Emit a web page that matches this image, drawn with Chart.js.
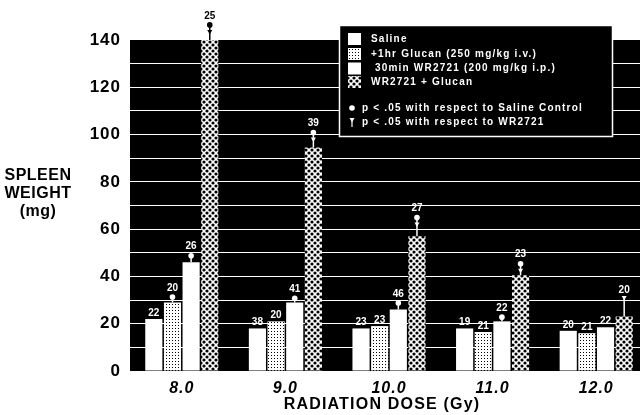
<!DOCTYPE html>
<html>
<head>
<meta charset="utf-8">
<script src="https://cdn.jsdelivr.net/npm/chart.js@4.4.1/dist/chart.umd.min.js"></script>
<style>
  html, body { margin: 0; padding: 0; background: #fff; overflow: hidden; }
  canvas { display: block; }
</style>
</head>
<body>
<canvas id="spleenChart" width="648" height="415"></canvas>
<script>
// radiation doses (Gy)
const doses = ['8.0', '9.0', '10.0', '11.0', '12.0'];

// mean spleen weight (mg)
const saline = [22, 18, 18, 18, 17];
const glucan = [29, 21, 19, 16.5, 16];
const wr2721 = [46, 29, 26, 21, 18.5];
const combo = [140, 94.5, 57, 40.5, 23];

// upper error bar per bar (mg)
const errSaline = [0, 0, 0, 0, 0];
const errGlucan = [1, 0, 0, 0, 0];
const errWr = [1.5, 0.5, 1.5, 0.5, 0];
const errCombo = [3, 3, 4.5, 1.5, 7.5];

// number of animals printed over each bar
const nSaline = [22, 38, 23, 19, 20];
const nGlucan = [20, 20, 23, 21, 21];
const nWr = [26, 41, 46, 22, 22];
const nCombo = [25, 39, 27, 23, 20];

// significance marks: dot = vs saline, dagger = vs WR2721
const dotGlucan = [1, 0, 0, 0, 0];
const dotWr = [1, 1, 1, 1, 0];
const dotCombo = [1, 1, 1, 1, 0];
const daggerCombo = [1, 1, 1, 1, 1];

const yLabels = [0, 20, 40, 60, 80, 100, 120, 140];
const seriesNames = ['Saline', '+1hr Glucan (250 mg/kg i.v.)', ' 30min WR2721 (200 mg/kg i.p.)', 'WR2721 + Glucan'];
const noteLines = ['p < .05 with respect to Saline Control', 'p < .05 with respect to WR2721'];
const yTitle = ['SPLEEN', 'WEIGHT', '(mg)'];
const xTitle = 'RADIATION DOSE (Gy)';

const FONT = '"Liberation Sans", Arial, sans-serif';

// fill patterns for the glucan bars and the combination bars
function gridPattern() {
  const c = document.createElement('canvas');
  c.width = 3; c.height = 3;
  const g = c.getContext('2d');
  g.fillStyle = '#fff'; g.fillRect(0, 0, 3, 3);
  g.fillStyle = '#000'; g.fillRect(1, 1, 1, 1);
  return g.createPattern(c, 'repeat');
}
function lacePattern() {
  const c = document.createElement('canvas');
  c.width = 6; c.height = 6;
  const g = c.getContext('2d');
  g.fillStyle = '#fff'; g.fillRect(0, 0, 6, 6);
  g.fillStyle = '#000';
  [[0, 0], [6, 0], [0, 6], [6, 6], [3, 3]].forEach(([x, y]) => {
    g.beginPath(); g.arc(x, y, 1.6, 0, Math.PI * 2); g.fill();
  });
  return g.createPattern(c, 'repeat');
}
const gridFill = gridPattern();
const laceFill = lacePattern();
const fills = ['#fff', gridFill, '#fff', laceFill];

const marks = [
  { err: errSaline, n: nSaline },
  { err: errGlucan, n: nGlucan, dot: dotGlucan },
  { err: errWr, n: nWr, dot: dotWr },
  { err: errCombo, n: nCombo, dot: dotCombo, dagger: daggerCombo }
];

function drawDagger(ctx, x, cy, color) {
  ctx.fillStyle = color;
  ctx.beginPath();
  ctx.moveTo(x - 2.5, cy - 2);
  ctx.lineTo(x + 2.5, cy - 2);
  ctx.lineTo(x, cy + 2.5);
  ctx.closePath();
  ctx.fill();
}
function drawDot(ctx, x, cy, color) {
  ctx.fillStyle = color;
  ctx.beginPath();
  ctx.arc(x, cy, 2.8, 0, Math.PI * 2);
  ctx.fill();
}

// black plot background, stretched to the right edge
const blackPlot = {
  id: 'blackPlot',
  beforeDraw(chart) {
    const { ctx, chartArea } = chart;
    ctx.save();
    ctx.fillStyle = '#000';
    ctx.fillRect(chartArea.left, chartArea.top, chart.width - chartArea.left, chartArea.bottom - chartArea.top);
    ctx.restore();
    ctx.letterSpacing = '1px';
  }
};

// error bars, significance marks and n counts
const barMarks = {
  id: 'barMarks',
  afterDatasetsDraw(chart) {
    const ctx = chart.ctx;
    const yScale = chart.scales.y;
    const top = chart.chartArea.top;
    const ink = p => (p < top ? '#000' : '#fff');
    ctx.save();
    ctx.letterSpacing = '0px';
    marks.forEach((m, di) => {
      const meta = chart.getDatasetMeta(di);
      meta.data.forEach((bar, i) => {
        const value = chart.data.datasets[di].data[i];
        const errY = yScale.getPixelForValue(value + m.err[i]);
        const hasDot = m.dot && m.dot[i];
        const hasDagger = m.dagger && m.dagger[i];
        let peak = errY;
        let stemEnd = errY;
        if (hasDagger) { stemEnd = errY - 1; peak = errY - 3; }
        if (hasDot) { stemEnd = errY - (hasDagger ? 8 : 3); peak = stemEnd - 3; }
        if (stemEnd < bar.y - 0.5) {
          ctx.strokeStyle = ink((stemEnd + bar.y) / 2);
          ctx.lineWidth = 1.5;
          ctx.beginPath();
          ctx.moveTo(bar.x, bar.y);
          ctx.lineTo(bar.x, stemEnd);
          ctx.stroke();
        }
        if (hasDagger) drawDagger(ctx, bar.x, errY - 1, ink(errY - 1));
        if (hasDot) drawDot(ctx, bar.x, stemEnd, ink(stemEnd));
        ctx.font = 'bold 10px ' + FONT;
        ctx.textAlign = 'center';
        ctx.textBaseline = 'bottom';
        ctx.fillStyle = ink(peak - 5);
        ctx.fillText(String(m.n[i]), bar.x, peak - 1);
      });
    });
    ctx.restore();
  }
};

// boxed key, axis titles
const keyBox = {
  id: 'keyBox',
  afterDraw(chart) {
    const ctx = chart.ctx;
    ctx.save();
    ctx.letterSpacing = '0px';
    ctx.fillStyle = '#000';
    ctx.fillRect(339.5, 25.5, 273, 111);
    ctx.strokeStyle = '#fff';
    ctx.lineWidth = 1.5;
    ctx.strokeRect(339.5, 25.5, 273, 111);

    const rowY = [39, 54, 68.5, 82];
    seriesNames.forEach((name, i) => {
      ctx.fillStyle = fills[i];
      ctx.fillRect(348, rowY[i] - 6, 13, 12);
      ctx.fillStyle = '#fff';
      ctx.font = 'bold 10px ' + FONT;
      ctx.letterSpacing = '1.2px';
      ctx.textAlign = 'left';
      ctx.textBaseline = 'middle';
      ctx.fillText(name, 371, rowY[i]);
      ctx.letterSpacing = '0px';
    });
    drawDot(ctx, 352, 108, '#fff');
    ctx.strokeStyle = '#fff';
    ctx.lineWidth = 1.2;
    ctx.beginPath(); ctx.moveTo(352, 121); ctx.lineTo(352, 127); ctx.stroke();
    drawDagger(ctx, 352, 120, '#fff');
    ctx.letterSpacing = '1.2px';
    ctx.fillStyle = '#fff';
    ctx.fillText(noteLines[0], 362, 108);
    ctx.fillText(noteLines[1], 362, 122);

    ctx.fillStyle = '#000';
    ctx.textAlign = 'center';
    ctx.font = 'bold 16px ' + FONT;
    ctx.letterSpacing = '0.5px';
    [176, 194, 212].forEach((y, i) => ctx.fillText(yTitle[i], 38, y));
    ctx.letterSpacing = '1.2px';
    ctx.fillText(xTitle, 382, 405);
    ctx.restore();
  }
};

const ctx = document.getElementById('spleenChart').getContext('2d');

const barStyle = { barPercentage: 0.92, categoryPercentage: 0.72, borderWidth: 0 };

new Chart(ctx, {
  type: 'bar',
  data: {
    labels: doses,
    datasets: [
      { label: seriesNames[0], data: saline, backgroundColor: fills[0], ...barStyle },
      { label: seriesNames[1], data: glucan, backgroundColor: fills[1], ...barStyle },
      { label: seriesNames[2], data: wr2721, backgroundColor: fills[2], ...barStyle },
      { label: seriesNames[3], data: combo, backgroundColor: fills[3], ...barStyle }
    ]
  },
  options: {
    responsive: false,
    animation: false,
    layout: { padding: { top: 40, left: 0, right: 0, bottom: 0 } },
    plugins: { legend: { display: false }, tooltip: { enabled: false } },
    scales: {
      x: {
        grid: { display: false },
        border: { display: false },
        ticks: {
          color: '#000',
          padding: 0,
          font: { family: FONT, size: 16, weight: 'bold', style: 'italic' }
        },
        afterFit: s => { s.height = 44; }
      },
      y: {
        min: 0,
        max: 140,
        border: { display: false },
        grid: {
          drawTicks: false,
          lineWidth: 1,
          color: c => (c.tick.value === 0 || c.tick.value === 140 ? 'rgba(0,0,0,0)' : '#fff')
        },
        ticks: {
          stepSize: 10,
          autoSkip: false,
          padding: 9,
          color: '#000',
          font: { family: FONT, size: 17, weight: 'bold' },
          callback: v => (yLabels.includes(v) ? v : '')
        },
        afterFit: s => { s.width = 130; }
      }
    }
  },
  plugins: [blackPlot, barMarks, keyBox]
});
</script>
</body>
</html>
